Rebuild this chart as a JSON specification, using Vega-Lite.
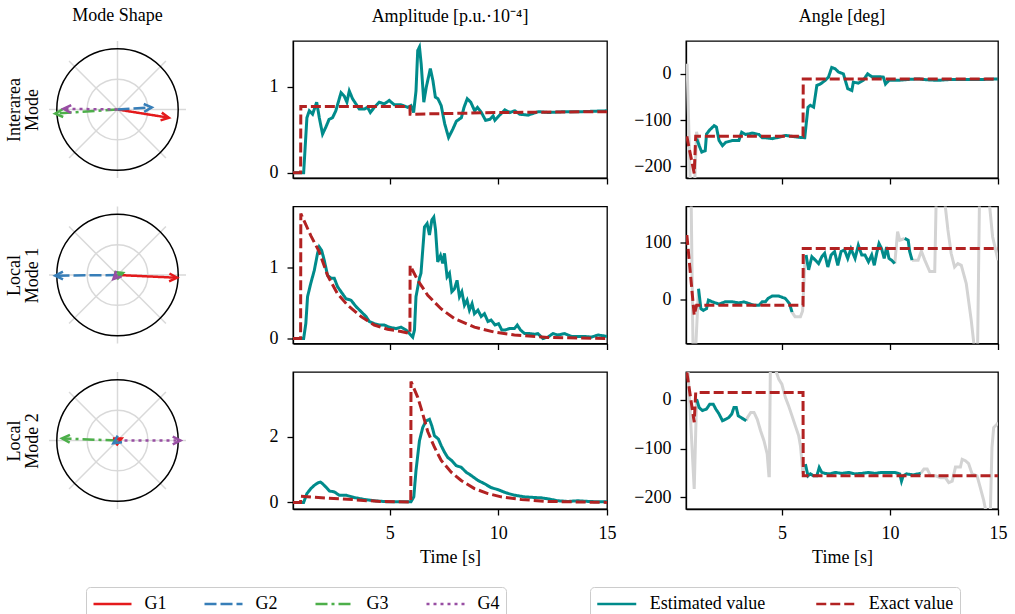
{
"$schema":"https://vega.github.io/schema/vega-lite/v6.json",
"padding":{"left":5,"top":7,"right":5,"bottom":0},
"background":"white",
"bounds":"flush",
"columns":3,
"spacing":{"row":28.5,"column":79},
"resolve":{"scale":{"color":"independent","strokeDash":"independent"}},
"config":{
"font":"Liberation Serif",
"view":{"stroke":"black","strokeWidth":1.3},
"axis":{"labelFont":"Liberation Serif","labelFontSize":18,"labelColor":"black","titleFont":"Liberation Serif","titleFontSize":18,"titleFontWeight":"normal","titleColor":"black","tickColor":"black","tickSize":6,"tickWidth":1.3,"domainColor":"black","domainWidth":1.3,"grid":false,"labelPadding":9,"labelFlush":false},
"title":{"font":"Liberation Serif","fontSize":18,"fontWeight":"normal","color":"black","offset":15,"anchor":"middle"},
"legend":{"labelFont":"Liberation Serif","labelFontSize":18,"labelColor":"black"}
},
"datasets":{
"spokes":[{"x0":0,"y0":0,"x1":1,"y1":0},{"x0":0,"y0":0,"x1":0.7071,"y1":0.7071},{"x0":0,"y0":0,"x1":0,"y1":1},{"x0":0,"y0":0,"x1":-0.7071,"y1":0.7071},{"x0":0,"y0":0,"x1":-1,"y1":0},{"x0":0,"y0":0,"x1":-0.7071,"y1":-0.7071},{"x0":0,"y0":0,"x1":0,"y1":-1},{"x0":0,"y0":0,"x1":0.7071,"y1":-0.7071}],
"rings":[{"cx":0,"cy":0,"ring":"inner"},{"cx":0,"cy":0,"ring":"outer"}],
"modes":[
{"mode":1,"gen":"G1","ox":0,"oy":0,"x":0.75,"y":-0.12},{"mode":1,"gen":"G2","ox":0,"oy":0,"x":0.5,"y":0.03},{"mode":1,"gen":"G3","ox":0,"oy":0,"x":-0.91,"y":-0.06},{"mode":1,"gen":"G4","ox":0,"oy":0,"x":-0.79,"y":0.01},
{"mode":2,"gen":"G1","ox":0,"oy":0,"x":0.87,"y":-0.04},{"mode":2,"gen":"G2","ox":0,"oy":0,"x":-0.91,"y":-0.01},{"mode":2,"gen":"G3","ox":0,"oy":0,"x":0.08,"y":0.03},{"mode":2,"gen":"G4","ox":0,"oy":0,"x":-0.06,"y":-0.06},
{"mode":3,"gen":"G1","ox":0,"oy":0,"x":0.06,"y":0.03},{"mode":3,"gen":"G2","ox":0,"oy":0,"x":-0.06,"y":-0.04},{"mode":3,"gen":"G3","ox":0,"oy":0,"x":-0.81,"y":0.03},{"mode":3,"gen":"G4","ox":0,"oy":0,"x":0.92,"y":0}
],
"a1":[
{"s":"est","t":0.55,"v":0},{"s":"est","t":1.04,"v":0},{"s":"est","t":1.19,"v":0.64},{"s":"est","t":1.3,"v":0.72},{"s":"est","t":1.45,"v":0.68},{"s":"est","t":1.64,"v":0.82},{"s":"est","t":1.76,"v":0.64},{"s":"est","t":1.91,"v":0.45},{"s":"est","t":2.06,"v":0.53},{"s":"est","t":2.21,"v":0.62},{"s":"est","t":2.37,"v":0.64},{"s":"est","t":2.52,"v":0.72},{"s":"est","t":2.76,"v":0.93},{"s":"est","t":2.91,"v":0.89},{"s":"est","t":3.03,"v":0.82},{"s":"est","t":3.14,"v":0.95},{"s":"est","t":3.29,"v":0.86},{"s":"est","t":3.6,"v":0.74},{"s":"est","t":3.83,"v":0.74},{"s":"est","t":3.98,"v":0.76},{"s":"est","t":4.11,"v":0.7},{"s":"est","t":4.29,"v":0.76},{"s":"est","t":4.52,"v":0.82},{"s":"est","t":4.75,"v":0.8},{"s":"est","t":4.98,"v":0.84},{"s":"est","t":5.21,"v":0.79},{"s":"est","t":5.52,"v":0.79},{"s":"est","t":5.83,"v":0.76},{"s":"est","t":5.98,"v":0.78},{"s":"est","t":6.1,"v":0.7},{"s":"est","t":6.21,"v":0.95},{"s":"est","t":6.29,"v":1.42},{"s":"est","t":6.37,"v":1.46},{"s":"est","t":6.45,"v":1.26},{"s":"est","t":6.57,"v":0.82},{"s":"est","t":6.68,"v":0.99},{"s":"est","t":6.87,"v":1.21},{"s":"est","t":6.99,"v":1.07},{"s":"est","t":7.1,"v":0.88},{"s":"est","t":7.22,"v":0.86},{"s":"est","t":7.37,"v":0.78},{"s":"est","t":7.53,"v":0.57},{"s":"est","t":7.71,"v":0.41},{"s":"est","t":7.91,"v":0.51},{"s":"est","t":8.07,"v":0.6},{"s":"est","t":8.3,"v":0.64},{"s":"est","t":8.42,"v":0.76},{"s":"est","t":8.57,"v":0.86},{"s":"est","t":8.73,"v":0.82},{"s":"est","t":8.91,"v":0.72},{"s":"est","t":9.04,"v":0.76},{"s":"est","t":9.22,"v":0.7},{"s":"est","t":9.41,"v":0.61},{"s":"est","t":9.61,"v":0.62},{"s":"est","t":9.76,"v":0.66},{"s":"est","t":9.84,"v":0.61},{"s":"est","t":10.02,"v":0.66},{"s":"est","t":10.3,"v":0.73},{"s":"est","t":10.53,"v":0.7},{"s":"est","t":10.76,"v":0.72},{"s":"est","t":10.99,"v":0.68},{"s":"est","t":11.37,"v":0.67},{"s":"est","t":11.84,"v":0.71},{"s":"est","t":12.3,"v":0.7},{"s":"est","t":13.07,"v":0.71},{"s":"est","t":13.84,"v":0.71},{"s":"est","t":15,"v":0.72},
{"s":"exact","t":0.55,"v":0},{"s":"exact","t":0.9,"v":0},{"s":"exact","t":0.91,"v":0.77},{"s":"exact","t":5.93,"v":0.77},{"s":"exact","t":5.94,"v":0.68},{"s":"exact","t":8,"v":0.69},{"s":"exact","t":10,"v":0.7},{"s":"exact","t":15,"v":0.71}
],
"a2":[
{"s":"est","t":0.55,"v":0},{"s":"est","t":1.04,"v":0},{"s":"est","t":1.14,"v":0.21},{"s":"est","t":1.22,"v":0.59},{"s":"est","t":1.37,"v":0.78},{"s":"est","t":1.53,"v":0.96},{"s":"est","t":1.68,"v":1.2},{"s":"est","t":1.76,"v":1.29},{"s":"est","t":1.87,"v":1.24},{"s":"est","t":1.99,"v":1.1},{"s":"est","t":2.14,"v":0.89},{"s":"est","t":2.3,"v":0.85},{"s":"est","t":2.45,"v":0.85},{"s":"est","t":2.6,"v":0.73},{"s":"est","t":2.76,"v":0.66},{"s":"est","t":2.99,"v":0.56},{"s":"est","t":3.22,"v":0.54},{"s":"est","t":3.45,"v":0.45},{"s":"est","t":3.68,"v":0.38},{"s":"est","t":3.91,"v":0.31},{"s":"est","t":4.06,"v":0.24},{"s":"est","t":4.29,"v":0.21},{"s":"est","t":4.52,"v":0.19},{"s":"est","t":4.75,"v":0.19},{"s":"est","t":4.98,"v":0.16},{"s":"est","t":5.29,"v":0.14},{"s":"est","t":5.52,"v":0.16},{"s":"est","t":5.75,"v":0.12},{"s":"est","t":5.91,"v":0.07},{"s":"est","t":6.06,"v":0.02},{"s":"est","t":6.14,"v":0.12},{"s":"est","t":6.21,"v":0.59},{"s":"est","t":6.37,"v":0.85},{"s":"est","t":6.44,"v":0.92},{"s":"est","t":6.6,"v":1.57},{"s":"est","t":6.72,"v":1.62},{"s":"est","t":6.83,"v":1.46},{"s":"est","t":6.94,"v":1.67},{"s":"est","t":7.03,"v":1.71},{"s":"est","t":7.11,"v":1.53},{"s":"est","t":7.21,"v":1.08},{"s":"est","t":7.34,"v":1.17},{"s":"est","t":7.44,"v":1.06},{"s":"est","t":7.52,"v":1.2},{"s":"est","t":7.64,"v":0.87},{"s":"est","t":7.75,"v":0.92},{"s":"est","t":7.86,"v":0.66},{"s":"est","t":7.98,"v":0.7},{"s":"est","t":8.1,"v":0.82},{"s":"est","t":8.21,"v":0.59},{"s":"est","t":8.32,"v":0.66},{"s":"est","t":8.44,"v":0.47},{"s":"est","t":8.56,"v":0.54},{"s":"est","t":8.67,"v":0.4},{"s":"est","t":8.79,"v":0.49},{"s":"est","t":8.9,"v":0.35},{"s":"est","t":9.06,"v":0.4},{"s":"est","t":9.21,"v":0.31},{"s":"est","t":9.36,"v":0.35},{"s":"est","t":9.52,"v":0.24},{"s":"est","t":9.67,"v":0.26},{"s":"est","t":9.85,"v":0.19},{"s":"est","t":10.01,"v":0.21},{"s":"est","t":10.16,"v":0.12},{"s":"est","t":10.31,"v":0.12},{"s":"est","t":10.51,"v":0.14},{"s":"est","t":10.74,"v":0.14},{"s":"est","t":10.87,"v":0.19},{"s":"est","t":11.02,"v":0.12},{"s":"est","t":11.21,"v":0.07},{"s":"est","t":11.44,"v":0.07},{"s":"est","t":11.67,"v":0.06},{"s":"est","t":11.82,"v":0.07},{"s":"est","t":12.05,"v":0},{"s":"est","t":12.28,"v":0.02},{"s":"est","t":12.51,"v":0.07},{"s":"est","t":12.74,"v":0.05},{"s":"est","t":13.05,"v":0.07},{"s":"est","t":13.36,"v":0.03},{"s":"est","t":13.66,"v":0.03},{"s":"est","t":13.97,"v":0.03},{"s":"est","t":14.28,"v":0.02},{"s":"est","t":14.59,"v":0.05},{"s":"est","t":15,"v":0.03},
{"s":"exact","t":0.55,"v":0},{"s":"exact","t":0.9,"v":0},{"s":"exact","t":0.91,"v":1.76},{"s":"exact","t":1.37,"v":1.45},{"s":"exact","t":1.76,"v":1.22},{"s":"exact","t":2.14,"v":0.89},{"s":"exact","t":2.6,"v":0.63},{"s":"exact","t":3.06,"v":0.47},{"s":"exact","t":3.68,"v":0.31},{"s":"exact","t":4.29,"v":0.19},{"s":"exact","t":4.9,"v":0.13},{"s":"exact","t":5.52,"v":0.1},{"s":"exact","t":5.93,"v":0.07},{"s":"exact","t":5.94,"v":1.03},{"s":"exact","t":6.29,"v":0.82},{"s":"exact","t":6.75,"v":0.61},{"s":"exact","t":7.36,"v":0.42},{"s":"exact","t":7.98,"v":0.28},{"s":"exact","t":8.9,"v":0.16},{"s":"exact","t":9.82,"v":0.09},{"s":"exact","t":10.74,"v":0.05},{"s":"exact","t":12.27,"v":0.015},{"s":"exact","t":15,"v":0}
],
"a3":[
{"s":"est","t":0.55,"v":0},{"s":"est","t":1.04,"v":0},{"s":"est","t":1.19,"v":0.27},{"s":"est","t":1.37,"v":0.42},{"s":"est","t":1.53,"v":0.52},{"s":"est","t":1.68,"v":0.59},{"s":"est","t":1.81,"v":0.62},{"s":"est","t":1.91,"v":0.57},{"s":"est","t":2.06,"v":0.47},{"s":"est","t":2.22,"v":0.35},{"s":"est","t":2.45,"v":0.32},{"s":"est","t":2.68,"v":0.22},{"s":"est","t":2.99,"v":0.22},{"s":"est","t":3.37,"v":0.15},{"s":"est","t":3.83,"v":0.09},{"s":"est","t":4.29,"v":0.05},{"s":"est","t":4.91,"v":0.02},{"s":"est","t":5.52,"v":0.02},{"s":"est","t":5.98,"v":0.02},{"s":"est","t":6.11,"v":0.17},{"s":"est","t":6.21,"v":0.97},{"s":"est","t":6.37,"v":1.88},{"s":"est","t":6.52,"v":2.28},{"s":"est","t":6.67,"v":2.48},{"s":"est","t":6.83,"v":2.53},{"s":"est","t":6.94,"v":2.33},{"s":"est","t":7.06,"v":2.03},{"s":"est","t":7.24,"v":1.93},{"s":"est","t":7.37,"v":1.73},{"s":"est","t":7.52,"v":1.53},{"s":"est","t":7.67,"v":1.37},{"s":"est","t":7.86,"v":1.27},{"s":"est","t":8.06,"v":1.12},{"s":"est","t":8.29,"v":1.07},{"s":"est","t":8.52,"v":0.92},{"s":"est","t":8.75,"v":0.82},{"s":"est","t":9.06,"v":0.67},{"s":"est","t":9.36,"v":0.57},{"s":"est","t":9.67,"v":0.45},{"s":"est","t":9.98,"v":0.39},{"s":"est","t":10.36,"v":0.29},{"s":"est","t":10.74,"v":0.22},{"s":"est","t":11.21,"v":0.17},{"s":"est","t":11.67,"v":0.15},{"s":"est","t":11.97,"v":0.14},{"s":"est","t":12.28,"v":0.11},{"s":"est","t":12.74,"v":0.05},{"s":"est","t":13.2,"v":0.03},{"s":"est","t":13.66,"v":0.05},{"s":"est","t":14.13,"v":0.03},{"s":"est","t":14.59,"v":0.02},{"s":"est","t":15,"v":0.02},
{"s":"exact","t":0.55,"v":0},{"s":"exact","t":0.9,"v":0},{"s":"exact","t":0.91,"v":0.19},{"s":"exact","t":1.5,"v":0.16},{"s":"exact","t":2.2,"v":0.13},{"s":"exact","t":3.06,"v":0.1},{"s":"exact","t":3.8,"v":0.06},{"s":"exact","t":4.6,"v":0.03},{"s":"exact","t":5.97,"v":0.01},{"s":"exact","t":5.98,"v":3.68},{"s":"exact","t":6.29,"v":3.2},{"s":"exact","t":6.44,"v":2.88},{"s":"exact","t":6.75,"v":2.16},{"s":"exact","t":7.06,"v":1.68},{"s":"exact","t":7.37,"v":1.28},{"s":"exact","t":7.83,"v":0.92},{"s":"exact","t":8.29,"v":0.67},{"s":"exact","t":8.9,"v":0.42},{"s":"exact","t":9.52,"v":0.27},{"s":"exact","t":10.13,"v":0.17},{"s":"exact","t":11.05,"v":0.09},{"s":"exact","t":12.28,"v":0.03},{"s":"exact","t":15,"v":0}
],
"g1":[
{"s":"raw","g":"r1","t":0.6,"v":22},{"s":"raw","g":"r1","t":0.75,"v":-240},{"s":"raw","g":"r1","t":0.95,"v":-240},{"s":"raw","g":"r1","t":1.04,"v":-125},{"s":"raw","g":"r1","t":1.16,"v":-155},
{"s":"est","g":"e1","t":1.04,"v":-140},{"s":"est","g":"e1","t":1.16,"v":-155},{"s":"est","g":"e1","t":1.28,"v":-169},{"s":"est","g":"e1","t":1.44,"v":-166},{"s":"est","g":"e1","t":1.5,"v":-130},{"s":"est","g":"e1","t":1.65,"v":-121},{"s":"est","g":"e1","t":1.85,"v":-112},{"s":"est","g":"e1","t":1.96,"v":-115},{"s":"est","g":"e1","t":2.08,"v":-144},{"s":"est","g":"e1","t":2.24,"v":-155},{"s":"est","g":"e1","t":2.39,"v":-148},{"s":"est","g":"e1","t":2.7,"v":-144},{"s":"est","g":"e1","t":3,"v":-144},{"s":"est","g":"e1","t":3.13,"v":-126},{"s":"est","g":"e1","t":3.31,"v":-131},{"s":"est","g":"e1","t":3.62,"v":-128},{"s":"est","g":"e1","t":3.93,"v":-131},{"s":"est","g":"e1","t":4.08,"v":-138},{"s":"est","g":"e1","t":4.23,"v":-138},{"s":"est","g":"e1","t":4.54,"v":-140},{"s":"est","g":"e1","t":4.85,"v":-137},{"s":"est","g":"e1","t":5.15,"v":-133},{"s":"est","g":"e1","t":5.46,"v":-135},{"s":"est","g":"e1","t":5.77,"v":-137},{"s":"est","g":"e1","t":6.05,"v":-138},{"s":"est","g":"e1","t":6.2,"v":-72},{"s":"est","g":"e1","t":6.31,"v":-68},{"s":"est","g":"e1","t":6.46,"v":-72},{"s":"est","g":"e1","t":6.61,"v":-25},{"s":"est","g":"e1","t":6.77,"v":-22},{"s":"est","g":"e1","t":7,"v":-14},{"s":"est","g":"e1","t":7.15,"v":-7},{"s":"est","g":"e1","t":7.3,"v":14},{"s":"est","g":"e1","t":7.46,"v":11},{"s":"est","g":"e1","t":7.61,"v":4},{"s":"est","g":"e1","t":7.84,"v":0},{"s":"est","g":"e1","t":8.04,"v":-32},{"s":"est","g":"e1","t":8.23,"v":-36},{"s":"est","g":"e1","t":8.3,"v":-18},{"s":"est","g":"e1","t":8.53,"v":-20},{"s":"est","g":"e1","t":8.76,"v":-14},{"s":"est","g":"e1","t":8.96,"v":0},{"s":"est","g":"e1","t":9.15,"v":-6},{"s":"est","g":"e1","t":9.46,"v":-6},{"s":"est","g":"e1","t":9.69,"v":-7},{"s":"est","g":"e1","t":9.79,"v":-22},{"s":"est","g":"e1","t":9.95,"v":-14},{"s":"est","g":"e1","t":10.38,"v":-14},{"s":"est","g":"e1","t":10.84,"v":-12},{"s":"est","g":"e1","t":11.3,"v":-11},{"s":"est","g":"e1","t":11.76,"v":-13},{"s":"est","g":"e1","t":12.22,"v":-14},{"s":"est","g":"e1","t":12.83,"v":-12},{"s":"est","g":"e1","t":13.6,"v":-12},{"s":"est","g":"e1","t":14.37,"v":-12},{"s":"est","g":"e1","t":15,"v":-11},
{"s":"exact","g":"x1","t":0.59,"v":-135},{"s":"exact","g":"x1","t":0.65,"v":-150},{"s":"exact","g":"x1","t":0.93,"v":-215},{"s":"exact","g":"x1","t":1,"v":-135},{"s":"exact","g":"x1","t":5.97,"v":-135},{"s":"exact","g":"x1","t":5.98,"v":-11},{"s":"exact","g":"x1","t":15,"v":-11}
],
"g2":[
{"s":"raw","g":"r1","t":0.59,"v":200},{"s":"raw","g":"r1","t":0.78,"v":200},{"s":"raw","g":"r1","t":0.88,"v":-100},{"s":"raw","g":"r1","t":0.98,"v":-100},{"s":"raw","g":"r1","t":1.13,"v":19},
{"s":"raw","g":"r2","t":5.46,"v":-22},{"s":"raw","g":"r2","t":5.6,"v":-30},{"s":"raw","g":"r2","t":5.85,"v":-30},{"s":"raw","g":"r2","t":5.95,"v":-20},{"s":"raw","g":"r2","t":6.05,"v":60},{"s":"raw","g":"r2","t":6.11,"v":78},
{"s":"raw","g":"r3","t":10.22,"v":63},{"s":"raw","g":"r3","t":10.35,"v":119},{"s":"raw","g":"r3","t":10.45,"v":104},{"s":"raw","g":"r3","t":10.68,"v":107},
{"s":"raw","g":"r4","t":11.02,"v":69},{"s":"raw","g":"r4","t":11.3,"v":69},{"s":"raw","g":"r4","t":11.45,"v":85},{"s":"raw","g":"r4","t":11.6,"v":70},{"s":"raw","g":"r4","t":11.84,"v":49},{"s":"raw","g":"r4","t":12.07,"v":49},{"s":"raw","g":"r4","t":12.15,"v":200},{"s":"raw","g":"r4","t":12.45,"v":200},{"s":"raw","g":"r4","t":12.68,"v":122},{"s":"raw","g":"r4","t":12.83,"v":81},{"s":"raw","g":"r4","t":12.99,"v":57},{"s":"raw","g":"r4","t":13.14,"v":63},{"s":"raw","g":"r4","t":13.3,"v":60},{"s":"raw","g":"r4","t":13.53,"v":28},{"s":"raw","g":"r4","t":13.76,"v":-36},{"s":"raw","g":"r4","t":13.95,"v":-100},{"s":"raw","g":"r4","t":14.05,"v":-100},{"s":"raw","g":"r4","t":14.15,"v":200},{"s":"raw","g":"r4","t":14.52,"v":200},{"s":"raw","g":"r4","t":14.75,"v":110},{"s":"raw","g":"r4","t":15,"v":69},
{"s":"est","g":"e1","t":1.13,"v":19},{"s":"est","g":"e1","t":1.24,"v":-16},{"s":"est","g":"e1","t":1.35,"v":-19},{"s":"est","g":"e1","t":1.5,"v":-16},{"s":"est","g":"e1","t":1.59,"v":-1},{"s":"est","g":"e1","t":1.77,"v":-4},{"s":"est","g":"e1","t":2.08,"v":-8},{"s":"est","g":"e1","t":2.36,"v":-4},{"s":"est","g":"e1","t":2.7,"v":-4},{"s":"est","g":"e1","t":3,"v":-6},{"s":"est","g":"e1","t":3.23,"v":-4},{"s":"est","g":"e1","t":3.46,"v":-7},{"s":"est","g":"e1","t":3.7,"v":-10},{"s":"est","g":"e1","t":3.93,"v":-10},{"s":"est","g":"e1","t":4.08,"v":-4},{"s":"est","g":"e1","t":4.23,"v":-4},{"s":"est","g":"e1","t":4.35,"v":2},{"s":"est","g":"e1","t":4.54,"v":6},{"s":"est","g":"e1","t":4.85,"v":6},{"s":"est","g":"e1","t":5.15,"v":2},{"s":"est","g":"e1","t":5.34,"v":-7},{"s":"est","g":"e1","t":5.46,"v":-22},
{"s":"est","g":"e2","t":6.11,"v":78},{"s":"est","g":"e2","t":6.23,"v":52},{"s":"est","g":"e2","t":6.38,"v":75},{"s":"est","g":"e2","t":6.54,"v":69},{"s":"est","g":"e2","t":6.69,"v":63},{"s":"est","g":"e2","t":6.84,"v":75},{"s":"est","g":"e2","t":6.97,"v":81},{"s":"est","g":"e2","t":7.12,"v":57},{"s":"est","g":"e2","t":7.27,"v":78},{"s":"est","g":"e2","t":7.43,"v":84},{"s":"est","g":"e2","t":7.58,"v":60},{"s":"est","g":"e2","t":7.73,"v":84},{"s":"est","g":"e2","t":7.89,"v":87},{"s":"est","g":"e2","t":8.04,"v":72},{"s":"est","g":"e2","t":8.19,"v":89},{"s":"est","g":"e2","t":8.38,"v":72},{"s":"est","g":"e2","t":8.53,"v":95},{"s":"est","g":"e2","t":8.69,"v":78},{"s":"est","g":"e2","t":8.84,"v":78},{"s":"est","g":"e2","t":9,"v":66},{"s":"est","g":"e2","t":9.15,"v":78},{"s":"est","g":"e2","t":9.27,"v":60},{"s":"est","g":"e2","t":9.38,"v":81},{"s":"est","g":"e2","t":9.49,"v":98},{"s":"est","g":"e2","t":9.61,"v":89},{"s":"est","g":"e2","t":9.73,"v":72},{"s":"est","g":"e2","t":9.84,"v":92},{"s":"est","g":"e2","t":9.95,"v":72},{"s":"est","g":"e2","t":10.07,"v":69},{"s":"est","g":"e2","t":10.22,"v":63},
{"s":"est","g":"e3","t":10.68,"v":107},{"s":"est","g":"e3","t":10.84,"v":104},{"s":"est","g":"e3","t":10.91,"v":84},{"s":"est","g":"e3","t":11.02,"v":69},
{"s":"exact","g":"x1","t":0.59,"v":113},{"s":"exact","g":"x1","t":0.93,"v":-27},{"s":"exact","g":"x1","t":1.04,"v":-10},{"s":"exact","g":"x1","t":5.97,"v":-10},{"s":"exact","g":"x1","t":5.98,"v":89.5},{"s":"exact","g":"x1","t":15,"v":89.5}
],
"g3":[
{"s":"raw","g":"r1","t":0.62,"v":80},{"s":"raw","g":"r1","t":0.93,"v":-183},{"s":"raw","g":"r1","t":1.04,"v":1.4},
{"s":"raw","g":"r2","t":3.34,"v":-43},{"s":"raw","g":"r2","t":3.4,"v":-36},{"s":"raw","g":"r2","t":3.55,"v":-26},{"s":"raw","g":"r2","t":3.7,"v":-26},{"s":"raw","g":"r2","t":3.85,"v":-40},{"s":"raw","g":"r2","t":4,"v":-63},{"s":"raw","g":"r2","t":4.16,"v":-84},{"s":"raw","g":"r2","t":4.31,"v":-111},{"s":"raw","g":"r2","t":4.39,"v":-156},{"s":"raw","g":"r2","t":4.41,"v":-156},{"s":"raw","g":"r2","t":4.46,"v":80},{"s":"raw","g":"r2","t":4.55,"v":80},{"s":"raw","g":"r2","t":4.85,"v":42},{"s":"raw","g":"r2","t":4.99,"v":32},{"s":"raw","g":"r2","t":5.15,"v":5},{"s":"raw","g":"r2","t":5.3,"v":-12},{"s":"raw","g":"r2","t":5.46,"v":-33},{"s":"raw","g":"r2","t":5.61,"v":-53},{"s":"raw","g":"r2","t":5.77,"v":-74},{"s":"raw","g":"r2","t":5.85,"v":-94},{"s":"raw","g":"r2","t":5.97,"v":-152},{"s":"raw","g":"r2","t":6.08,"v":-132},
{"s":"raw","g":"r3","t":11.42,"v":-151},{"s":"raw","g":"r3","t":11.57,"v":-142},{"s":"raw","g":"r3","t":11.72,"v":-142},{"s":"raw","g":"r3","t":11.88,"v":-156},{"s":"raw","g":"r3","t":12.11,"v":-156},{"s":"raw","g":"r3","t":12.34,"v":-160},{"s":"raw","g":"r3","t":12.57,"v":-160},{"s":"raw","g":"r3","t":12.72,"v":-170},{"s":"raw","g":"r3","t":12.88,"v":-167},{"s":"raw","g":"r3","t":13.03,"v":-138},{"s":"raw","g":"r3","t":13.26,"v":-138},{"s":"raw","g":"r3","t":13.34,"v":-122},{"s":"raw","g":"r3","t":13.49,"v":-125},{"s":"raw","g":"r3","t":13.64,"v":-131},{"s":"raw","g":"r3","t":13.8,"v":-152},{"s":"raw","g":"r3","t":14.03,"v":-156},{"s":"raw","g":"r3","t":14.18,"v":-180},{"s":"raw","g":"r3","t":14.34,"v":-207},{"s":"raw","g":"r3","t":14.49,"v":-240},{"s":"raw","g":"r3","t":14.64,"v":-240},{"s":"raw","g":"r3","t":14.72,"v":-98},{"s":"raw","g":"r3","t":14.8,"v":-57},{"s":"raw","g":"r3","t":14.95,"v":-50},{"s":"raw","g":"r3","t":15,"v":-47},
{"s":"est","g":"e1","t":1.04,"v":1.4},{"s":"est","g":"e1","t":1.16,"v":-16},{"s":"est","g":"e1","t":1.31,"v":-22},{"s":"est","g":"e1","t":1.5,"v":-19},{"s":"est","g":"e1","t":1.65,"v":-9},{"s":"est","g":"e1","t":1.81,"v":-9},{"s":"est","g":"e1","t":1.93,"v":-19},{"s":"est","g":"e1","t":2.08,"v":-29},{"s":"est","g":"e1","t":2.24,"v":-43},{"s":"est","g":"e1","t":2.39,"v":-40},{"s":"est","g":"e1","t":2.54,"v":-36},{"s":"est","g":"e1","t":2.67,"v":-29},{"s":"est","g":"e1","t":2.77,"v":-16},{"s":"est","g":"e1","t":2.88,"v":-16},{"s":"est","g":"e1","t":2.97,"v":-33},{"s":"est","g":"e1","t":3.08,"v":-36},{"s":"est","g":"e1","t":3.23,"v":-40},{"s":"est","g":"e1","t":3.34,"v":-43},
{"s":"est","g":"e2","t":6.08,"v":-132},{"s":"est","g":"e2","t":6.2,"v":-156},{"s":"est","g":"e2","t":6.31,"v":-152},{"s":"est","g":"e2","t":6.46,"v":-156},{"s":"est","g":"e2","t":6.61,"v":-156},{"s":"est","g":"e2","t":6.72,"v":-139},{"s":"est","g":"e2","t":6.84,"v":-149},{"s":"est","g":"e2","t":7,"v":-151},{"s":"est","g":"e2","t":7.23,"v":-152},{"s":"est","g":"e2","t":7.46,"v":-149},{"s":"est","g":"e2","t":7.77,"v":-151},{"s":"est","g":"e2","t":8.07,"v":-149},{"s":"est","g":"e2","t":8.38,"v":-152},{"s":"est","g":"e2","t":8.69,"v":-151},{"s":"est","g":"e2","t":9,"v":-149},{"s":"est","g":"e2","t":9.3,"v":-151},{"s":"est","g":"e2","t":9.61,"v":-149},{"s":"est","g":"e2","t":9.92,"v":-149},{"s":"est","g":"e2","t":10.22,"v":-149},{"s":"est","g":"e2","t":10.45,"v":-152},{"s":"est","g":"e2","t":10.53,"v":-167},{"s":"est","g":"e2","t":10.61,"v":-156},{"s":"est","g":"e2","t":10.76,"v":-152},{"s":"est","g":"e2","t":11.07,"v":-154},{"s":"est","g":"e2","t":11.3,"v":-152},{"s":"est","g":"e2","t":11.42,"v":-151},
{"s":"exact","g":"x1","t":0.59,"v":56},{"s":"exact","g":"x1","t":0.93,"v":-46},{"s":"exact","g":"x1","t":1,"v":15},{"s":"exact","g":"x1","t":5.97,"v":15},{"s":"exact","g":"x1","t":5.98,"v":-156},{"s":"exact","g":"x1","t":15,"v":-156}
]
},
"concat":[
{"width":165,"height":137,"view":{"stroke":null},"title":{"text":"Mode Shape","dx":-14},"layer":[
{"data":{"name":"spokes"},"mark":{"type":"rule","color":"#d9d9d9","strokeWidth":1.5},"encoding":{"x":{"field":"x0","type":"quantitative","scale":{"domain":[-1,1.4088],"nice":false,"zero":false},"axis":null},"x2":{"field":"x1"},"y":{"field":"y0","type":"quantitative","scale":{"domain":[-1,1],"nice":false,"zero":false},"axis":{"title":["Interarea","Mode"],"labels":false,"ticks":false,"domain":false,"grid":false,"titlePadding":8,"titleLineHeight":18}},"y2":{"field":"y1"}}},
{"data":{"name":"rings"},"transform":[{"filter":"datum.ring==='inner'"}],"mark":{"type":"point","shape":"circle","filled":false,"size":3685,"stroke":"#d9d9d9","strokeWidth":1.5,"opacity":1},"encoding":{"x":{"field":"cx","type":"quantitative","axis":null},"y":{"field":"cy","type":"quantitative","axis":{"title":["Interarea","Mode"],"labels":false,"ticks":false,"domain":false,"grid":false,"titlePadding":8,"titleLineHeight":18}}}},
{"data":{"name":"rings"},"transform":[{"filter":"datum.ring==='outer'"}],"mark":{"type":"point","shape":"circle","filled":false,"size":14741,"stroke":"black","strokeWidth":1.5,"opacity":1},"encoding":{"x":{"field":"cx","type":"quantitative","axis":null},"y":{"field":"cy","type":"quantitative","axis":{"title":["Interarea","Mode"],"labels":false,"ticks":false,"domain":false,"grid":false,"titlePadding":8,"titleLineHeight":18}}}},
{"data":{"name":"modes"},"transform":[{"filter":"datum.mode===1"}],"mark":{"type":"rule","strokeWidth":2.5},"encoding":{"x":{"field":"ox","type":"quantitative","axis":null},"x2":{"field":"x"},"y":{"field":"oy","type":"quantitative","axis":{"title":["Interarea","Mode"],"labels":false,"ticks":false,"domain":false,"grid":false,"titlePadding":8,"titleLineHeight":18}},"y2":{"field":"y"},"color":{"field":"gen","type":"nominal","scale":{"domain":["G1","G2","G3","G4"],"range":["#e41a1c","#377eb8","#4daf4a","#984ea3"]},"legend":null},"strokeDash":{"field":"gen","type":"nominal","scale":{"domain":["G1","G2","G3","G4"],"range":[[1,0],[12,4],[12,4,3,4],[3,4]]},"legend":null}}},
{"data":{"name":"modes"},"transform":[{"filter":"datum.mode===1"},{"calculate":"(360-atan2(datum.y,datum.x)*180/PI)%360","as":"rot"}],"mark":{"type":"point","shape":"M-1.3,-0.65L0,0L-1.3,0.65","filled":false,"size":144,"strokeWidth":2.5,"opacity":1},"encoding":{"x":{"field":"x","type":"quantitative","axis":null},"y":{"field":"y","type":"quantitative","axis":{"title":["Interarea","Mode"],"labels":false,"ticks":false,"domain":false,"grid":false,"titlePadding":8,"titleLineHeight":18}},"color":{"field":"gen","type":"nominal","scale":{"domain":["G1","G2","G3","G4"],"range":["#e41a1c","#377eb8","#4daf4a","#984ea3"]},"legend":null},"angle":{"field":"rot","type":"quantitative","scale":{"domain":[0,360],"range":[0,360]}}}}
]},
{"width":314,"height":137,"title":"Amplitude [p.u.·10⁻⁴]","data":{"name":"a1"},"mark":{"type":"line","strokeWidth":3,"clip":true},"encoding":{"x":{"field":"t","type":"quantitative","scale":{"domain":[0.55,15],"nice":false,"zero":false},"axis":{"values":[5,10,15],"labels":false,"title":null}},"y":{"field":"v","type":"quantitative","scale":{"domain":[-0.06,1.53],"nice":false,"zero":false},"axis":{"values":[0,1],"title":null}},"color":{"field":"s","type":"nominal","scale":{"domain":["est","exact"],"range":["#008b8b","#b22222"]},"legend":null},"strokeDash":{"field":"s","type":"nominal","scale":{"domain":["est","exact"],"range":[[1,0],[10,4]]},"legend":null}}},
{"width":312,"height":137,"title":"Angle [deg]","data":{"name":"g1"},"layer":[
{"transform":[{"filter":"datum.s==='raw'"}],"mark":{"type":"line","color":"#d3d3d3","strokeWidth":3,"clip":true},"encoding":{"x":{"field":"t","type":"quantitative","scale":{"domain":[0.55,15],"nice":false,"zero":false},"axis":{"values":[5,10,15],"labels":false,"title":null}},"y":{"field":"v","type":"quantitative","scale":{"domain":[-225,71],"nice":false,"zero":false},"axis":{"values":[-200,-100,0],"title":null}},"detail":{"field":"g","type":"nominal"}}},
{"transform":[{"filter":"datum.s!=='raw'"}],"mark":{"type":"line","strokeWidth":3,"clip":true},"encoding":{"x":{"field":"t","type":"quantitative","axis":{"values":[5,10,15],"labels":false,"title":null}},"y":{"field":"v","type":"quantitative","axis":{"values":[-200,-100,0],"title":null}},"detail":{"field":"g","type":"nominal"},"color":{"field":"s","type":"nominal","scale":{"domain":["est","exact"],"range":["#008b8b","#b22222"]},"legend":null},"strokeDash":{"field":"s","type":"nominal","scale":{"domain":["est","exact"],"range":[[1,0],[10,4]]},"legend":null}}}
]},
{"width":165,"height":137,"view":{"stroke":null},"layer":[
{"data":{"name":"spokes"},"mark":{"type":"rule","color":"#d9d9d9","strokeWidth":1.5},"encoding":{"x":{"field":"x0","type":"quantitative","scale":{"domain":[-1,1.4088],"nice":false,"zero":false},"axis":null},"x2":{"field":"x1"},"y":{"field":"y0","type":"quantitative","scale":{"domain":[-1,1],"nice":false,"zero":false},"axis":{"title":["Local","Mode 1"],"labels":false,"ticks":false,"domain":false,"grid":false,"titlePadding":8,"titleLineHeight":18}},"y2":{"field":"y1"}}},
{"data":{"name":"rings"},"transform":[{"filter":"datum.ring==='inner'"}],"mark":{"type":"point","shape":"circle","filled":false,"size":3685,"stroke":"#d9d9d9","strokeWidth":1.5,"opacity":1},"encoding":{"x":{"field":"cx","type":"quantitative","axis":null},"y":{"field":"cy","type":"quantitative","axis":{"title":["Local","Mode 1"],"labels":false,"ticks":false,"domain":false,"grid":false,"titlePadding":8,"titleLineHeight":18}}}},
{"data":{"name":"rings"},"transform":[{"filter":"datum.ring==='outer'"}],"mark":{"type":"point","shape":"circle","filled":false,"size":14741,"stroke":"black","strokeWidth":1.5,"opacity":1},"encoding":{"x":{"field":"cx","type":"quantitative","axis":null},"y":{"field":"cy","type":"quantitative","axis":{"title":["Local","Mode 1"],"labels":false,"ticks":false,"domain":false,"grid":false,"titlePadding":8,"titleLineHeight":18}}}},
{"data":{"name":"modes"},"transform":[{"filter":"datum.mode===2"}],"mark":{"type":"rule","strokeWidth":2.5},"encoding":{"x":{"field":"ox","type":"quantitative","axis":null},"x2":{"field":"x"},"y":{"field":"oy","type":"quantitative","axis":{"title":["Local","Mode 1"],"labels":false,"ticks":false,"domain":false,"grid":false,"titlePadding":8,"titleLineHeight":18}},"y2":{"field":"y"},"color":{"field":"gen","type":"nominal","scale":{"domain":["G1","G2","G3","G4"],"range":["#e41a1c","#377eb8","#4daf4a","#984ea3"]},"legend":null},"strokeDash":{"field":"gen","type":"nominal","scale":{"domain":["G1","G2","G3","G4"],"range":[[1,0],[12,4],[12,4,3,4],[3,4]]},"legend":null}}},
{"data":{"name":"modes"},"transform":[{"filter":"datum.mode===2"},{"calculate":"(360-atan2(datum.y,datum.x)*180/PI)%360","as":"rot"}],"mark":{"type":"point","shape":"M-1.3,-0.65L0,0L-1.3,0.65","filled":false,"size":144,"strokeWidth":2.5,"opacity":1},"encoding":{"x":{"field":"x","type":"quantitative","axis":null},"y":{"field":"y","type":"quantitative","axis":{"title":["Local","Mode 1"],"labels":false,"ticks":false,"domain":false,"grid":false,"titlePadding":8,"titleLineHeight":18}},"color":{"field":"gen","type":"nominal","scale":{"domain":["G1","G2","G3","G4"],"range":["#e41a1c","#377eb8","#4daf4a","#984ea3"]},"legend":null},"angle":{"field":"rot","type":"quantitative","scale":{"domain":[0,360],"range":[0,360]}}}}
]},
{"width":314,"height":137,"data":{"name":"a2"},"mark":{"type":"line","strokeWidth":3,"clip":true},"encoding":{"x":{"field":"t","type":"quantitative","scale":{"domain":[0.55,15],"nice":false,"zero":false},"axis":{"values":[5,10,15],"labels":false,"title":null}},"y":{"field":"v","type":"quantitative","scale":{"domain":[-0.07,1.86],"nice":false,"zero":false},"axis":{"values":[0,1],"title":null}},"color":{"field":"s","type":"nominal","scale":{"domain":["est","exact"],"range":["#008b8b","#b22222"]},"legend":null},"strokeDash":{"field":"s","type":"nominal","scale":{"domain":["est","exact"],"range":[[1,0],[10,4]]},"legend":null}}},
{"width":312,"height":137,"data":{"name":"g2"},"layer":[
{"transform":[{"filter":"datum.s==='raw'"}],"mark":{"type":"line","color":"#d3d3d3","strokeWidth":3,"clip":true},"encoding":{"x":{"field":"t","type":"quantitative","scale":{"domain":[0.55,15],"nice":false,"zero":false},"axis":{"values":[5,10,15],"labels":false,"title":null}},"y":{"field":"v","type":"quantitative","scale":{"domain":[-77,163],"nice":false,"zero":false},"axis":{"values":[0,100],"title":null}},"detail":{"field":"g","type":"nominal"}}},
{"transform":[{"filter":"datum.s!=='raw'"}],"mark":{"type":"line","strokeWidth":3,"clip":true},"encoding":{"x":{"field":"t","type":"quantitative","axis":{"values":[5,10,15],"labels":false,"title":null}},"y":{"field":"v","type":"quantitative","axis":{"values":[0,100],"title":null}},"detail":{"field":"g","type":"nominal"},"color":{"field":"s","type":"nominal","scale":{"domain":["est","exact"],"range":["#008b8b","#b22222"]},"legend":null},"strokeDash":{"field":"s","type":"nominal","scale":{"domain":["est","exact"],"range":[[1,0],[10,4]]},"legend":null}}}
]},
{"width":165,"height":137,"view":{"stroke":null},"layer":[
{"data":{"name":"spokes"},"mark":{"type":"rule","color":"#d9d9d9","strokeWidth":1.5},"encoding":{"x":{"field":"x0","type":"quantitative","scale":{"domain":[-1,1.4088],"nice":false,"zero":false},"axis":null},"x2":{"field":"x1"},"y":{"field":"y0","type":"quantitative","scale":{"domain":[-1,1],"nice":false,"zero":false},"axis":{"title":["Local","Mode 2"],"labels":false,"ticks":false,"domain":false,"grid":false,"titlePadding":8,"titleLineHeight":18}},"y2":{"field":"y1"}}},
{"data":{"name":"rings"},"transform":[{"filter":"datum.ring==='inner'"}],"mark":{"type":"point","shape":"circle","filled":false,"size":3685,"stroke":"#d9d9d9","strokeWidth":1.5,"opacity":1},"encoding":{"x":{"field":"cx","type":"quantitative","axis":null},"y":{"field":"cy","type":"quantitative","axis":{"title":["Local","Mode 2"],"labels":false,"ticks":false,"domain":false,"grid":false,"titlePadding":8,"titleLineHeight":18}}}},
{"data":{"name":"rings"},"transform":[{"filter":"datum.ring==='outer'"}],"mark":{"type":"point","shape":"circle","filled":false,"size":14741,"stroke":"black","strokeWidth":1.5,"opacity":1},"encoding":{"x":{"field":"cx","type":"quantitative","axis":null},"y":{"field":"cy","type":"quantitative","axis":{"title":["Local","Mode 2"],"labels":false,"ticks":false,"domain":false,"grid":false,"titlePadding":8,"titleLineHeight":18}}}},
{"data":{"name":"modes"},"transform":[{"filter":"datum.mode===3"}],"mark":{"type":"rule","strokeWidth":2.5},"encoding":{"x":{"field":"ox","type":"quantitative","axis":null},"x2":{"field":"x"},"y":{"field":"oy","type":"quantitative","axis":{"title":["Local","Mode 2"],"labels":false,"ticks":false,"domain":false,"grid":false,"titlePadding":8,"titleLineHeight":18}},"y2":{"field":"y"},"color":{"field":"gen","type":"nominal","scale":{"domain":["G1","G2","G3","G4"],"range":["#e41a1c","#377eb8","#4daf4a","#984ea3"]},"legend":{"orient":"none","legendX":37,"legendY":215,"direction":"horizontal","title":null,"symbolType":"M-2,0L2,0","symbolSize":361,"symbolOffset":9.5,"symbolStrokeWidth":2.5,"labelFontSize":18,"labelOffset":21,"columnPadding":32,"strokeColor":"#cccccc","fillColor":"white","padding":6,"cornerRadius":4}},"strokeDash":{"field":"gen","type":"nominal","scale":{"domain":["G1","G2","G3","G4"],"range":[[1,0],[12,4],[12,4,3,4],[3,4]]},"legend":{"orient":"none","legendX":37,"legendY":215,"direction":"horizontal","title":null,"symbolType":"M-2,0L2,0","symbolSize":361,"symbolOffset":9.5,"symbolStrokeWidth":2.5,"labelFontSize":18,"labelOffset":21,"columnPadding":32,"strokeColor":"#cccccc","fillColor":"white","padding":6,"cornerRadius":4}}}},
{"data":{"name":"modes"},"transform":[{"filter":"datum.mode===3"},{"calculate":"(360-atan2(datum.y,datum.x)*180/PI)%360","as":"rot"}],"mark":{"type":"point","shape":"M-1.3,-0.65L0,0L-1.3,0.65","filled":false,"size":144,"strokeWidth":2.5,"opacity":1},"encoding":{"x":{"field":"x","type":"quantitative","axis":null},"y":{"field":"y","type":"quantitative","axis":{"title":["Local","Mode 2"],"labels":false,"ticks":false,"domain":false,"grid":false,"titlePadding":8,"titleLineHeight":18}},"color":{"field":"gen","type":"nominal","scale":{"domain":["G1","G2","G3","G4"],"range":["#e41a1c","#377eb8","#4daf4a","#984ea3"]},"legend":null},"angle":{"field":"rot","type":"quantitative","scale":{"domain":[0,360],"range":[0,360]}}}}
]},
{"width":314,"height":137,"data":{"name":"a3"},"mark":{"type":"line","strokeWidth":3,"clip":true},"encoding":{"x":{"field":"t","type":"quantitative","scale":{"domain":[0.55,15],"nice":false,"zero":false},"axis":{"values":[5,10,15],"title":"Time [s]","titlePadding":6}},"y":{"field":"v","type":"quantitative","scale":{"domain":[-0.2,3.97],"nice":false,"zero":false},"axis":{"values":[0,2],"title":null}},"color":{"field":"s","type":"nominal","scale":{"domain":["est","exact"],"range":["#008b8b","#b22222"]},"legend":{"orient":"none","legendX":297,"legendY":215,"direction":"horizontal","title":null,"symbolType":"M-2,0L2,0","symbolSize":380,"symbolOffset":9.75,"symbolStrokeWidth":2.5,"labelFontSize":18,"labelOffset":22,"columnPadding":45,"strokeColor":"#cccccc","fillColor":"white","padding":6,"cornerRadius":4,"labelExpr":"datum.label==='est'?'Estimated value':'Exact value'"}},"strokeDash":{"field":"s","type":"nominal","scale":{"domain":["est","exact"],"range":[[1,0],[10,4]]},"legend":{"orient":"none","legendX":297,"legendY":215,"direction":"horizontal","title":null,"symbolType":"M-2,0L2,0","symbolSize":380,"symbolOffset":9.75,"symbolStrokeWidth":2.5,"labelFontSize":18,"labelOffset":22,"columnPadding":45,"strokeColor":"#cccccc","fillColor":"white","padding":6,"cornerRadius":4,"labelExpr":"datum.label==='est'?'Estimated value':'Exact value'"}}}},
{"width":312,"height":137,"data":{"name":"g3"},"layer":[
{"transform":[{"filter":"datum.s==='raw'"}],"mark":{"type":"line","color":"#d3d3d3","strokeWidth":3,"clip":true},"encoding":{"x":{"field":"t","type":"quantitative","scale":{"domain":[0.55,15],"nice":false,"zero":false},"axis":{"values":[5,10,15],"title":"Time [s]","titlePadding":6}},"y":{"field":"v","type":"quantitative","scale":{"domain":[-224,57],"nice":false,"zero":false},"axis":{"values":[-200,-100,0],"title":null}},"detail":{"field":"g","type":"nominal"}}},
{"transform":[{"filter":"datum.s!=='raw'"}],"mark":{"type":"line","strokeWidth":3,"clip":true},"encoding":{"x":{"field":"t","type":"quantitative","axis":{"values":[5,10,15],"title":"Time [s]","titlePadding":6}},"y":{"field":"v","type":"quantitative","axis":{"values":[-200,-100,0],"title":null}},"detail":{"field":"g","type":"nominal"},"color":{"field":"s","type":"nominal","scale":{"domain":["est","exact"],"range":["#008b8b","#b22222"]},"legend":null},"strokeDash":{"field":"s","type":"nominal","scale":{"domain":["est","exact"],"range":[[1,0],[10,4]]},"legend":null}}}
]}
]
}
